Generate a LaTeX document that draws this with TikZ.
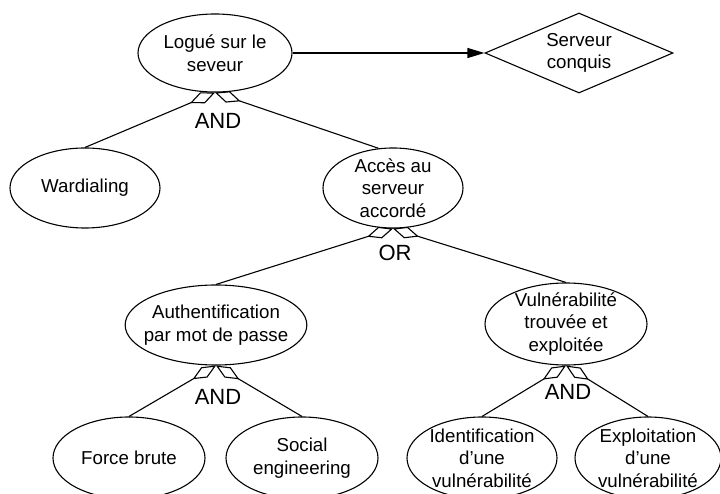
\documentclass[tikz,border=0pt]{standalone}
\usepackage{fontspec}
\setmainfont{Liberation Sans}
\usetikzlibrary{shapes.geometric, arrows.meta}
\tikzset{
    goal/.style={ellipse, draw, inner sep=-8pt, align=center,
    	font=\fontsize{18.7}{22.5}\selectfont},
    won/.style={diamond, draw, inner sep=0pt, aspect=2.35, align=center,
    	font=\fontsize{18.7}{22.5}\selectfont},
    gate/.style={inner sep=0pt, font=\fontsize{22}{26}\selectfont},
    part/.style={-{Diamond[open, length=27pt, width=12pt]}}
}

\begin{document}
\begin{tikzpicture}[x=1pt, y=-1pt, line width=1.1pt]
	\path[use as bounding box, clip] (0, 0) rectangle (720, 494);
	\node (logue) [goal, minimum width=154pt, minimum height=78pt] at (215, 53) {Logué sur le\\seveur};
	\node (conquis) [won, minimum width=188pt, minimum height=80pt] at (579, 53) {Serveur\\conquis};
	\node (wardial) [goal, minimum width=150pt, minimum height=80pt] at (85, 188) {Wardialing};
	\node (acces) [goal, minimum width=140pt, minimum height=80pt] at (393, 188) {Accès au\\serveur\\accordé};
	\node (authent) [goal, minimum width=176pt, minimum height=80pt] at (216, 325) {Authentification\\par mot de passe};
	\node (vuln) [goal, minimum width=162pt, minimum height=82pt] at (566, 324) {Vulnérabilité\\trouvée et\\exploitée};
	\node (force) [goal, minimum width=152pt, minimum height=82pt] at (129, 458) {Force brute};
	\node (social) [goal, minimum width=152pt, minimum height=82pt] at (302, 458) {Social\\engineering};
	\node (ident) [goal, minimum width=150pt, minimum height=82pt] at (482, 458) {Identification\\d’une\\vulnérabilité};
	\node (exploit) [goal, minimum width=146pt, minimum height=82pt] at (648, 458) {Exploitation\\d’une\\vulnérabilité};

	\node (and1) [gate] at (218, 121) {AND};
	\node (or1) [gate] at (395, 253) {OR};
	\node (and2) [gate] at (218, 397) {AND};
	\node (and3) [gate] at (568, 392) {AND};

	\draw[-{Triangle[length=17pt, width=10pt]}] (logue.east) -- (conquis.west);

	\draw (wardial.north) edge[part] (logue.south); \draw (acces.110) edge[part] (logue.south);
	\draw (authent.north) edge[part] (acces.south); \draw (vuln.north) edge[part] (acces.south);
	\draw (force.north) edge[part] (authent.south); \draw (social.north) edge[part] (authent.south);
	\draw (ident.north) edge[part] (vuln.south); \draw (exploit.north) edge[part] (vuln.south);
\end{tikzpicture}
\end{document}
